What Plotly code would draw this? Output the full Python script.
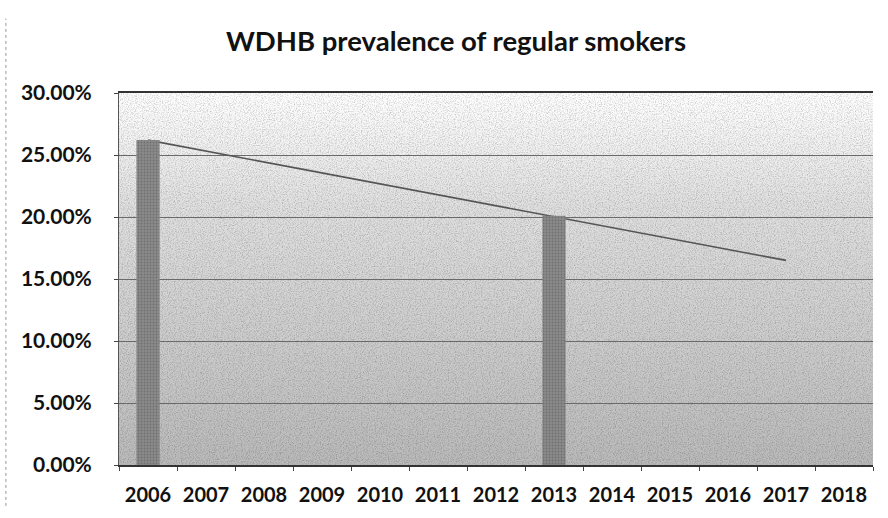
import base64
import plotly.graph_objects as go

# ---- data ----
years = [str(y) for y in range(2006, 2019)]
prevalence = [0.262, None, None, None, None, None, None, 0.201, None, None, None, None, None]
trend_years = ["2006", "2017"]
trend_values = [0.262, 0.165]
y_ticks = [0.0, 0.05, 0.10, 0.15, 0.20, 0.25, 0.30]

# ---- stippled gradient background (svg data uri) ----
svg = """<svg xmlns='http://www.w3.org/2000/svg' width='754' height='384' viewBox='0 0 754 384' preserveAspectRatio='none'>
<defs>
<linearGradient id='g' x1='0' y1='0' x2='0' y2='1'>
<stop offset='0' stop-color='#ffffff'/>
<stop offset='0.3' stop-color='#e0e0e0'/>
<stop offset='1' stop-color='#bababa'/>
</linearGradient>
<filter id='n' x='0' y='0' width='100%' height='100%'>
<feTurbulence type='fractalNoise' baseFrequency='0.85' numOctaves='2' stitchTiles='stitch'/>
<feColorMatrix type='matrix' values='0 0 0 0 0  0 0 0 0 0  0 0 0 0 0  0 0 0 -2.2 1.25'/>
</filter>
</defs>
<rect width='754' height='384' fill='url(#g)'/>
<rect width='754' height='384' filter='url(#n)' opacity='0.22'/>
</svg>"""
bg_src = "data:image/svg+xml;base64," + base64.b64encode(svg.encode()).decode()

fig = go.Figure()

# trend line on main axes (drawn beneath bars)
fig.add_trace(go.Scatter(
    x=trend_years, y=trend_values, mode="lines",
    line=dict(color="#555555", width=1.6),
    xaxis="x", yaxis="y", showlegend=False, hoverinfo="skip",
))

# bars on overlay axes (drawn above line)
fig.add_trace(go.Bar(
    x=years, y=prevalence, width=0.4,
    marker=dict(color="#858585", line=dict(width=0),
                pattern=dict(shape=".", fgcolor="#555555", bgcolor="#8a8a8a", size=3, solidity=0.3)),
    xaxis="x2", yaxis="y2", showlegend=False,
))

y_font = dict(family="Lato, 'Open Sans', sans-serif", size=21, color="#111111", weight="bold")
x_font = dict(family="Lato, 'Open Sans', sans-serif", size=20, color="#111111", weight="bold")

fig.update_layout(
    width=888, height=518,
    margin=dict(l=119, r=15, t=93, b=41),
    paper_bgcolor="white",
    plot_bgcolor="rgba(0,0,0,0)",
    title=dict(text="WDHB prevalence of regular smokers",
               xref="paper", x=0.447, xanchor="center", y=0.92, yanchor="middle",
               font=dict(family="Lato, 'Open Sans', sans-serif", size=27.5, color="#111111", weight="bold")),
    xaxis=dict(type="category", categoryorder="array", categoryarray=years,
               range=[-0.5, 12.5], tickson="boundaries", ticks="outside", ticklen=4,
               tickcolor="#444", showline=True, linecolor="#333", linewidth=1.5,
               mirror=True, showgrid=False, tickfont=x_font, ticklabelstandoff=11),
    yaxis=dict(range=[0, 0.30], tickvals=y_ticks, tickformat=".2%", ticks="outside",
               ticklen=4, tickcolor="#444", showline=True, linecolor="#555", linewidth=1,
               showgrid=True, gridcolor="#6a6a6a", gridwidth=1, zeroline=False,
               tickfont=y_font, ticklabelstandoff=18),
    xaxis2=dict(type="category", categoryorder="array", categoryarray=years,
                range=[-0.5, 12.5], overlaying="x", visible=False),
    yaxis2=dict(range=[0, 0.30], overlaying="y", visible=False),
    images=[dict(source=bg_src, xref="paper", yref="paper", x=0, y=1,
                 sizex=1, sizey=1, xanchor="left", yanchor="top",
                 sizing="stretch", layer="below")],
    shapes=[dict(type="line", xref="paper", yref="paper",
                 x0=-0.150, x1=-0.150, y0=-0.11, y1=1.2,
                 line=dict(color="#999", width=1, dash="dot"))],
)

fig.write_html("out.html")
